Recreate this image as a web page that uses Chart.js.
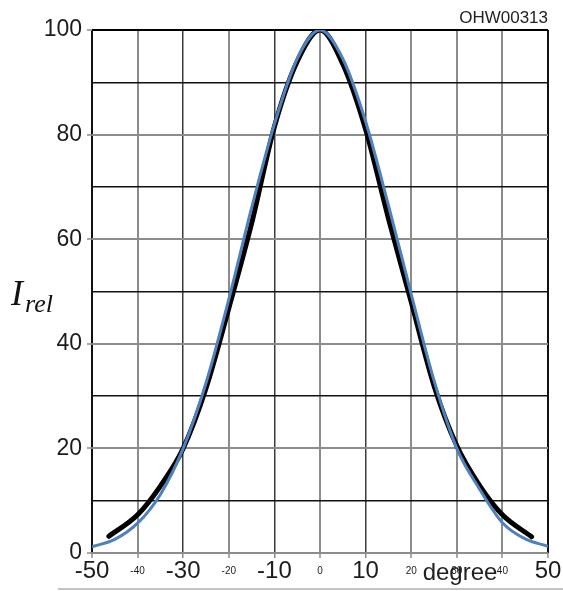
<!DOCTYPE html>
<html>
<head>
<meta charset="utf-8">
<script src="https://cdn.jsdelivr.net/npm/chart.js@4"></script>
<style>
  body { margin: 0; background: #fff; }
  #wrap { width: 563px; height: 591px; position: relative; }
</style>
</head>
<body>
<div id="wrap"><canvas id="chart"></canvas></div>
<script>
// data
const blueDeg = [-50, -45, -40, -35, -30, -25, -20, -15, -10, -5, 0, 5, 10, 15, 20, 25, 30, 35, 40, 45, 50];
const blueVal = [1.2, 2.6, 5.7, 11.2, 20, 32.5, 48.5, 66, 82, 94.5, 100, 94.5, 82.5, 66.5, 49.5, 33, 20, 12.2, 5.8, 2.7, 1.3];
const blackDeg = [-46.3, -40, -35, -30, -25, -20, -15, -10, -5, 0, 5, 10, 15, 20, 25, 30, 35, 40, 46.4];
const blackVal = [3.2, 7.3, 12.8, 20, 31.5, 46.8, 63, 81.5, 94, 100, 93.5, 81, 64, 48, 32, 20.5, 12.9, 7.3, 3.1];
const bigXTicks = [-50, -30, -10, 10, 50];
const yLabelTicks = [0, 20, 40, 60, 80, 100];

function toPoints(xs, ys) {
    return xs.map((x, i) => ({ x: x, y: ys[i] }));
}

// tick value from a scriptable context (undefined at scale level)
function tv(c) {
    return c && c.tick ? c.tick.value : undefined;
}

// extra texts: axis words, code label, bottom rule
const textPlugin = {
    id: 'texts',
    afterDraw(chart) {
        const ctx = chart.ctx;
        ctx.save();
        ctx.fillStyle = '#222';
        ctx.font = '24px "Liberation Sans", Arial, sans-serif';
        ctx.textAlign = 'center';
        ctx.textBaseline = 'alphabetic';
        ctx.fillText('degree', 460, 580);

        ctx.font = '17px "Liberation Sans", Arial, sans-serif';
        ctx.textAlign = 'right';
        ctx.fillText('OHW00313', 548, 23);

        ctx.textAlign = 'left';
        ctx.fillStyle = '#111';
        ctx.font = 'italic 36px "Liberation Serif", "DejaVu Serif", serif';
        ctx.fillText('I', 11, 305);
        ctx.font = 'italic 26px "Liberation Serif", "DejaVu Serif", serif';
        ctx.fillText('rel', 25, 312);

        ctx.strokeStyle = '#c4c4c4';
        ctx.lineWidth = 2;
        ctx.beginPath();
        ctx.moveTo(58, 589);
        ctx.lineTo(563, 589);
        ctx.stroke();
        ctx.restore();
    }
};

const bigFont = { family: '"Liberation Sans", Arial, sans-serif', size: 24, lineHeight: 1.2 };
const smallFont = { family: '"Liberation Sans", Arial, sans-serif', size: 10, lineHeight: 2.88 };

const ctx = document.getElementById('chart').getContext('2d');
const chart = new Chart(ctx, {
    type: 'line',
    data: {
        datasets: [
            {
                data: toPoints(blueDeg, blueVal),
                borderColor: '#4f81bd',
                borderWidth: 3,
                pointRadius: 0,
                cubicInterpolationMode: 'monotone'
            },
            {
                data: toPoints(blackDeg, blackVal),
                borderColor: '#000',
                borderWidth: 5,
                pointRadius: 0,
                borderCapStyle: 'round',
                cubicInterpolationMode: 'monotone'
            }
        ]
    },
    options: {
        responsive: true,
        maintainAspectRatio: false,
        animation: false,
        layout: { padding: { top: 30, right: 15, left: 0, bottom: 0 } },
        plugins: {
            legend: { display: false },
            tooltip: { enabled: false }
        },
        scales: {
            x: {
                type: 'linear',
                min: -50,
                max: 50,
                afterFit: s => { s.height = 38; },
                border: { display: false },
                grid: {
                    tickLength: 5,
                    color: c => {
                        const v = tv(c);
                        if (v === -50 || v === 50) return '#111';
                        if (v === -30 || v === -10 || v === 10) return '#3c3c3c';
                        return '#8c8c8c';
                    },
                    lineWidth: c => {
                        const v = tv(c);
                        return (v === -30 || v === -10 || v === 10) ? 1.5 : 2;
                    },
                    tickColor: '#8c8c8c',
                    tickWidth: 1.5
                },
                ticks: {
                    stepSize: 10,
                    padding: -1,
                    maxRotation: 0,
                    autoSkip: false,
                    color: '#1c1c1c',
                    font: c => {
                        const v = tv(c);
                        if (v === undefined) return bigFont;
                        return bigXTicks.includes(v) ? bigFont : smallFont;
                    }
                }
            },
            y: {
                min: 0,
                max: 100,
                afterFit: s => { s.width = 92; },
                border: { display: false },
                grid: {
                    tickLength: 5,
                    color: c => {
                        const v = tv(c);
                        if (v === 100) return '#000';
                        if (v % 20 === 10) return '#111';
                        return '#8c8c8c';
                    },
                    lineWidth: c => (tv(c) % 20 === 10) ? 1.5 : 2,
                    tickColor: c => (tv(c) % 20 === 10) ? 'rgba(0,0,0,0)' : '#8c8c8c',
                    tickWidth: 1.5
                },
                ticks: {
                    stepSize: 10,
                    padding: 5,
                    color: '#1c1c1c',
                    font: { family: '"Liberation Sans", Arial, sans-serif', size: 23 },
                    callback: v => yLabelTicks.includes(v) ? String(v) : ''
                }
            }
        }
    },
    plugins: [textPlugin]
});
</script>
</body>
</html>
